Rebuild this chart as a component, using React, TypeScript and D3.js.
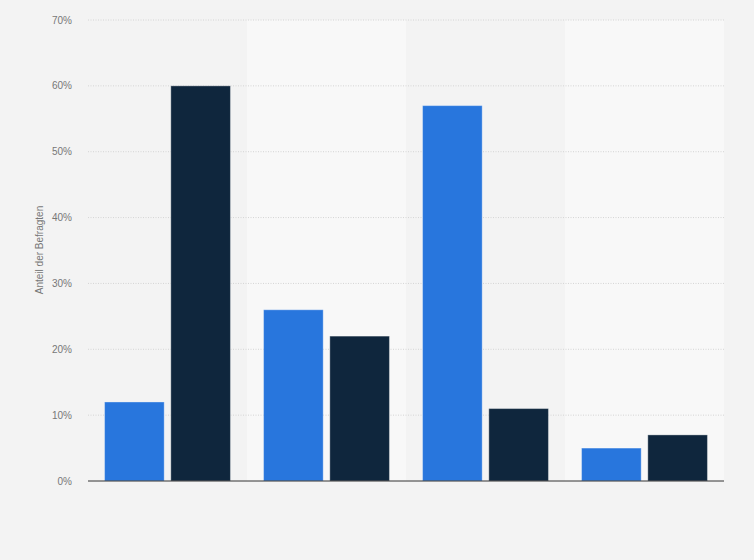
import React, { useEffect, useRef } from 'react';
import * as d3 from 'd3';

const categories = ['A', 'B', 'C', 'D'];
const seriesNames = ['Serie 1', 'Serie 2'];
const series1 = [12, 26, 57, 5];
const series2 = [60, 22, 11, 7];
const yTicks = [0, 10, 20, 30, 40, 50, 60, 70];
const colors = ['#2876dd', '#0f263d'];

const width = 754;
const height = 560;
const margin = { top: 20, right: 30, bottom: 79, left: 88 };

export default function App() {
    const svgRef = useRef<SVGSVGElement>(null);

    useEffect(() => {
        if (!svgRef.current) return;
        const svg = d3.select(svgRef.current);
        svg.selectAll('*').remove();

        const innerW = width - margin.left - margin.right;
        const innerH = height - margin.top - margin.bottom;

        svg.append('rect')
            .attr('width', width)
            .attr('height', height)
            .attr('fill', '#f3f3f3');

        const g = svg.append('g')
            .attr('transform', `translate(${margin.left},${margin.top})`);

        const x = d3.scaleBand<string>()
            .domain(categories)
            .range([0, innerW])
            .paddingInner(0)
            .paddingOuter(0);

        const xInner = d3.scaleBand<string>()
            .domain(seriesNames)
            .range([0, x.bandwidth()])
            .paddingInner(0.1)
            .paddingOuter(0.25);

        const y = d3.scaleLinear().domain([0, 70]).range([innerH, 0]);

        // alternating column bands
        g.selectAll('rect.band')
            .data(categories)
            .enter()
            .append('rect')
            .attr('class', 'band')
            .attr('x', d => x(d)!)
            .attr('y', 0)
            .attr('width', x.bandwidth())
            .attr('height', innerH)
            .attr('fill', (d, i) => (i % 2 === 1 ? '#f8f8f8' : '#f3f3f3'));

        // gridlines
        g.selectAll('line.grid')
            .data(yTicks.filter(t => t > 0))
            .enter()
            .append('line')
            .attr('class', 'grid')
            .attr('x1', 0)
            .attr('x2', innerW)
            .attr('y1', d => y(d))
            .attr('y2', d => y(d))
            .attr('stroke', '#d4d4d4')
            .attr('stroke-width', 1)
            .attr('stroke-dasharray', '1,1.5');

        // tick labels
        g.selectAll('text.tick')
            .data(yTicks)
            .enter()
            .append('text')
            .attr('class', 'tick')
            .attr('x', -16)
            .attr('y', d => y(d))
            .attr('dy', '0.35em')
            .attr('text-anchor', 'end')
            .attr('font-family', 'Arial, "Liberation Sans", sans-serif')
            .attr('font-size', 10)
            .attr('fill', '#777')
            .text(d => `${d}%`);

        const data = categories.map((c, i) => ({ cat: c, values: [series1[i], series2[i]] }));

        const groups = g.selectAll('g.group')
            .data(data)
            .enter()
            .append('g')
            .attr('class', 'group')
            .attr('transform', d => `translate(${x(d.cat)},0)`);

        groups.selectAll('rect')
            .data(d => d.values.map((v, j) => ({ name: seriesNames[j], v, j })))
            .enter()
            .append('rect')
            .attr('x', d => xInner(d.name)!)
            .attr('y', d => y(d.v))
            .attr('width', xInner.bandwidth())
            .attr('height', d => innerH - y(d.v))
            .attr('fill', d => colors[d.j])
            .attr('stroke', '#ffffff')
            .attr('stroke-opacity', 0.35)
            .attr('stroke-width', 1);

        // baseline
        g.append('line')
            .attr('x1', 0)
            .attr('x2', innerW)
            .attr('y1', innerH)
            .attr('y2', innerH)
            .attr('stroke', '#333')
            .attr('stroke-width', 1);

        // y axis title
        svg.append('text')
            .attr('transform', `translate(43,250) rotate(-90)`)
            .attr('text-anchor', 'middle')
            .attr('font-family', 'Arial, "Liberation Sans", sans-serif')
            .attr('font-size', 10)
            .attr('fill', '#777')
            .text('Anteil der Befragten');
    }, []);

    return (
        <div style={{ position: 'absolute', left: 0, top: 0 }}>
            <svg ref={svgRef} width={width} height={height} style={{ display: 'block' }}></svg>
        </div>
    );
}
